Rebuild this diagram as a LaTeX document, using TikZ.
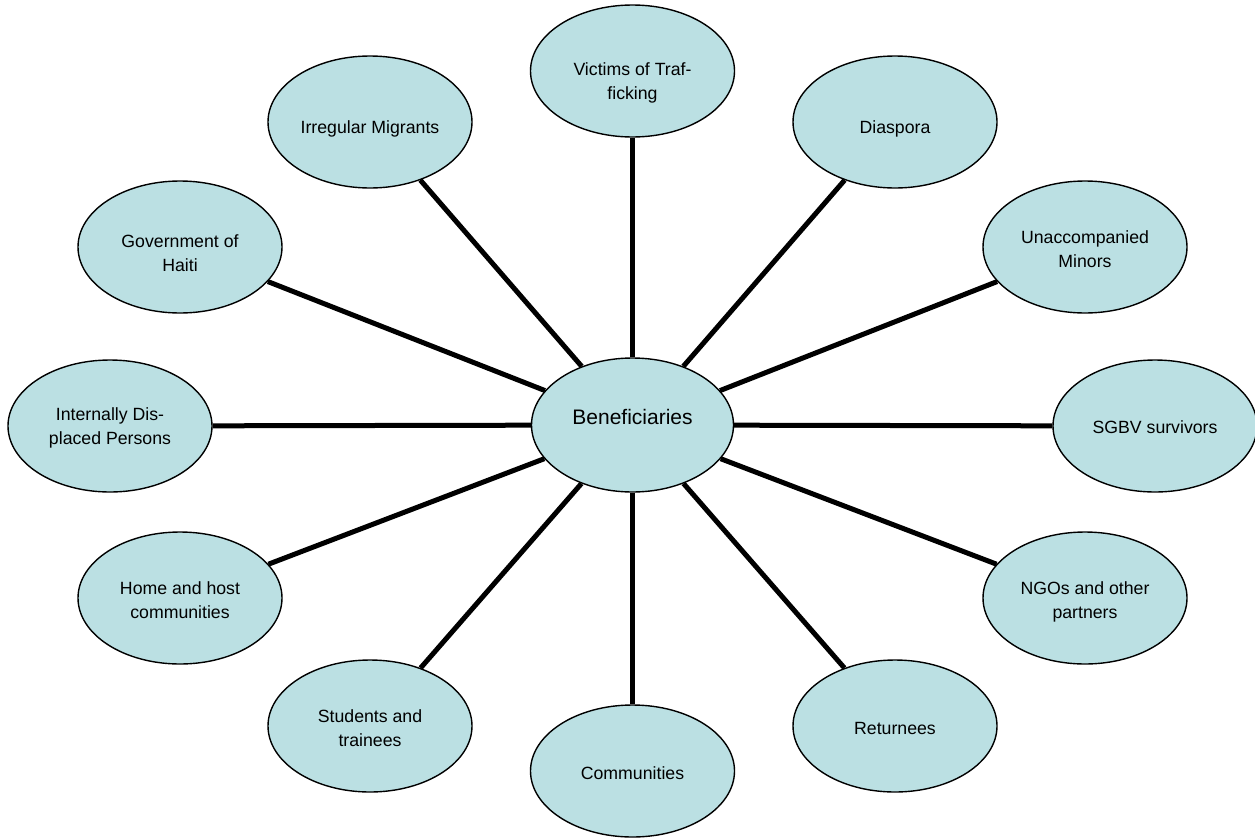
\documentclass[tikz,border=0pt]{standalone}
\usepackage{fontspec}
\setmainfont{Liberation Sans}
\usetikzlibrary{shapes.geometric}
\definecolor{bubble}{RGB}{187,224,227}
\tikzset{
  bub/.style={ellipse, draw=black, line width=1.4pt, fill=bubble,
    minimum width=204pt, minimum height=132pt, inner sep=0pt},
  hub/.style={bub, minimum width=202pt, minimum height=134pt},
  txt/.style={align=center, inner sep=0pt, font=\fontsize{17.7}{24}\selectfont},
  hubtxt/.style={txt, font=\fontsize{21}{25}\selectfont},
  spoke/.style={line width=5pt}
}
\begin{document}
\begin{tikzpicture}[x=1pt,y=-1pt]
\useasboundingbox (0,0) rectangle (1255,838);
\node[hub, label={[hubtxt, yshift=8pt]center:Beneficiaries}] (c) at (632.5,425) {};
\node[bub, label={[txt, yshift=-12pt]center:{Victims of Traf-\\ficking}}] (vic) at (632.5,71) {};
\node[bub, label={[txt, yshift=-7pt]center:Diaspora}] (dia) at (895,122) {};
\node[bub, label={[txt, yshift=-2pt]center:{Unaccompanied\\Minors}}] (una) at (1085,247) {};
\node[bub, label={[txt, yshift=-1pt]center:SGBV survivors}] (sgb) at (1155,426) {};
\node[bub, label={[txt, yshift=-4pt]center:{NGOs and other\\partners}}] (ngo) at (1085,598) {};
\node[bub, label={[txt, yshift=-2pt]center:Returnees}] (ret) at (895,726) {};
\node[bub, label={[txt, yshift=-2pt]center:Communities}] (com) at (632.5,771) {};
\node[bub, label={[txt, yshift=-2pt]center:{Students and\\trainees}}] (stu) at (370,726) {};
\node[bub, label={[txt, yshift=-2pt]center:{Home and host\\communities}}] (hom) at (180,598) {};
\node[bub, label={[txt, yshift=-2pt]center:{Internally Dis-\\placed Persons}}] (idp) at (110,426) {};
\node[bub, label={[txt, yshift=-6pt]center:{Government of\\Haiti}}] (gov) at (180,247) {};
\node[bub, label={[txt, yshift=-7pt]center:Irregular Migrants}] (irr) at (370,122) {};
\foreach \n in {vic,dia,una,sgb,ngo,ret,com,stu,hom,idp,gov,irr}
  \draw[spoke] (c) -- (\n);
\end{tikzpicture}
\end{document}
